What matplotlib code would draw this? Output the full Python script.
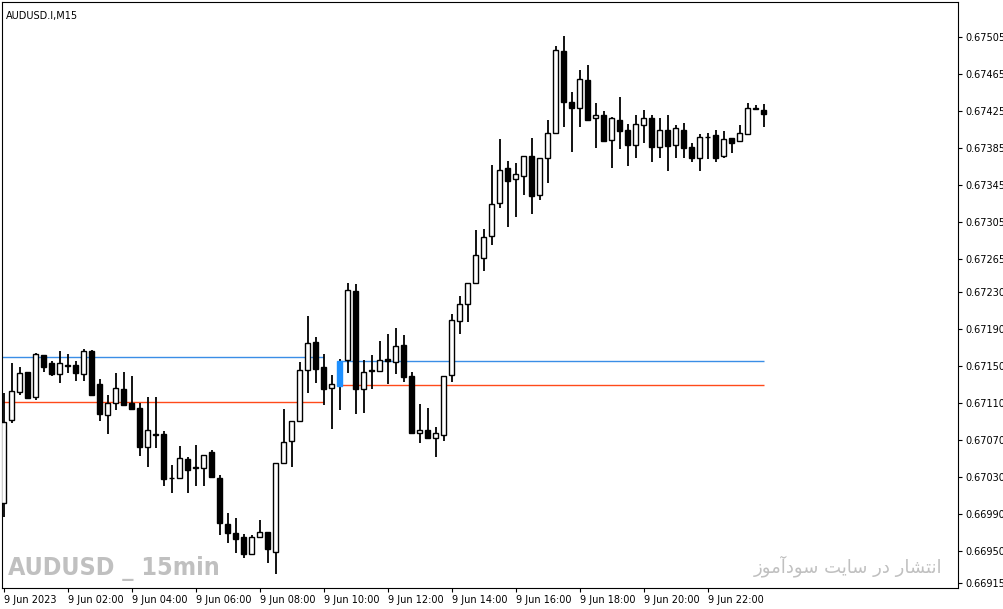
import matplotlib
matplotlib.use("Agg")
import matplotlib.pyplot as plt
import numpy as np

opens  = [67002,67092,67122,67143,67116,67162,67153,67141,67151,67151,67141,67166,67130,67097,67110,67125,67110,67104,67062,67076,
          67076,67029,67029,67049,67040,67040,67057,67029,66979,66969,66965,66947,66965,66970,66949,67045,67069,67090,67145,67176,
          67149,67126,67128,67156,67231,67125,67145,67144,67157,67154,67172,67139,67077,67081,67072,67075,67140,67198,67217,67240,
          67267,67290,67326,67364,67352,67355,67377,67335,67375,67401,67490,67435,67429,67459,67418,67421,67394,67416,67405,67389,
          67410,67418,67386,67405,67388,67405,67386,67375,67397,67399,67377,67396,67393,67400,67429,67426]
highs  = [67121,67153,67149,67143,67164,67162,67155,67166,67163,67155,67168,67167,67136,67118,67142,67143,67139,67110,67116,67116,
          67080,67043,67063,67051,67065,67054,67059,67032,66991,66986,66968,66967,66983,66970,67045,67103,67090,67154,67204,67181,
          67163,67140,67157,67239,67238,67156,67162,67177,67184,67191,67183,67143,67109,67104,67084,67139,67206,67225,67240,67297,
          67298,67367,67395,67371,67369,67377,67396,67374,67415,67496,67506,67446,67470,67475,67434,67425,67419,67440,67411,67421,
          67426,67421,67418,67421,67410,67412,67391,67400,67402,67405,67404,67396,67410,67434,67432,67433]
lows   = [66987,67088,67118,67115,67113,67143,67139,67131,67142,67134,67134,67117,67090,67076,67102,67107,67103,67053,67041,67061,
          67020,67013,67029,67013,67020,67020,67030,66967,66959,66948,66942,66946,66965,66937,66925,67045,67041,67090,67121,67131,
          67108,67082,67102,67142,67098,67099,67125,67143,67130,67141,67132,67076,67067,67072,67051,67069,67132,67184,67197,67240,
          67252,67281,67320,67300,67311,67334,67314,67329,67348,67401,67408,67381,67408,67414,67385,67393,67364,67384,67366,67375,
          67391,67370,67375,67360,67375,67374,67370,67360,67373,67370,67374,67380,67393,67400,67427,67408]
closes = [67089,67123,67142,67115,67163,67149,67141,67153,67150,67142,67166,67118,67098,67110,67126,67108,67103,67062,67081,67076,
          67028,67029,67050,67038,67040,67054,67030,66980,66969,66963,66947,66965,66970,66952,67045,67068,67090,67145,67175,67147,
          67125,67130,67155,67232,67125,67143,67144,67156,67155,67171,67138,67077,67081,67072,67077,67139,67200,67217,67240,67270,
          67289,67325,67362,67350,67357,67377,67333,67374,67402,67491,67435,67428,67460,67416,67421,67393,67418,67404,67388,67411,
          67418,67386,67405,67387,67407,67385,67375,67397,67397,67375,67395,67391,67401,67429,67427,67422]
opens, highs, lows, closes = [np.array(a) / 1e5 for a in (opens, highs, lows, closes)]
highlight_idx = 42

# level lines: (start index, end index, price)
blue_levels = [(-0.5, 40, 0.67159), (42, 95, 0.67155)]
orange_levels = [(-0.5, 40, 0.67111), (42, 95, 0.67129)]

yticks = [0.67505,0.67465,0.67425,0.67385,0.67345,0.67305,0.67265,0.67230,0.67190,0.67150,
          0.67110,0.67070,0.67030,0.66990,0.66950,0.66915]
xtick_idx = [0,8,16,24,32,40,48,56,64,72,80,88]
xtick_labels = ["9 Jun 2023","9 Jun 02:00","9 Jun 04:00","9 Jun 06:00","9 Jun 08:00","9 Jun 10:00",
                "9 Jun 12:00","9 Jun 14:00","9 Jun 16:00","9 Jun 18:00","9 Jun 20:00","9 Jun 22:00"]

fig = plt.figure(figsize=(10.04, 6.09), dpi=100)
ax = fig.add_axes([2/1004, 1-588/609, 956/1004, 586/609])
ax.set_xlim(-0.19, 119.3)
ax.set_ylim(0.66910, 0.67543)

x = np.arange(len(opens))
w = 0.6
for i in x:
    o, h, l, c = opens[i], highs[i], lows[i], closes[i]
    ax.vlines(i, l, h, color="black", lw=1.3, zorder=2)
    bottom, top = min(o, c), max(o, c)
    if i == highlight_idx:
        fc, ec = "#1e90ff", "#1e90ff"
    elif c >= o:
        fc, ec = "white", "black"
    else:
        fc, ec = "black", "black"
    hgt = max(top - bottom, 0.000004)
    ax.bar(i, hgt, w, bottom=bottom if top - bottom > 0 else bottom - 0.000002,
           facecolor=fc, edgecolor=ec, lw=1.0, zorder=3)

for a, b, p in blue_levels:
    ax.hlines(p, a, b, color="#3a8ee6", lw=1.0, zorder=1)
for a, b, p in orange_levels:
    ax.hlines(p, a, b, color="#ff4a1a", lw=1.0, zorder=1)

ax.yaxis.tick_right()
ax.set_yticks(yticks)
ax.set_yticklabels([f"{v:.5f}" for v in yticks], fontsize=7)
ax.set_xticks(xtick_idx)
ax.set_xticklabels(xtick_labels, fontsize=7, ha="left")
ax.tick_params(axis="both", length=3, width=0.8, pad=2, colors="black")
for s in ax.spines.values():
    s.set_linewidth(0.8)

ax.text(0.004, 0.985, "AUDUSD.I,M15", transform=ax.transAxes, fontsize=7, va="top", ha="left")
ax.text(0.006, 0.012, "AUDUSD _ 15min", transform=ax.transAxes, fontsize=18, fontweight="bold",
        color="#c0c0c0", va="bottom", ha="left", family=["DejaVu Sans"], fontstretch="condensed")
fa = "\uFEAF\uFEEE\uFEE3\uFE81\uFEA9\uFEEE\uFEB3 \uFE96\uFEF3\uFE8E\uFEB3 \uFEAD\uFEA9 \uFEAD\uFE8E\uFEB8\uFE98\uFEE7\uFE8D"
ax.text(0.984, 0.018, fa, transform=ax.transAxes, fontsize=13,
        color="#c0c0c0", va="bottom", ha="right", family=["DejaVu Sans"])

fig.savefig("out.png", dpi=100)
